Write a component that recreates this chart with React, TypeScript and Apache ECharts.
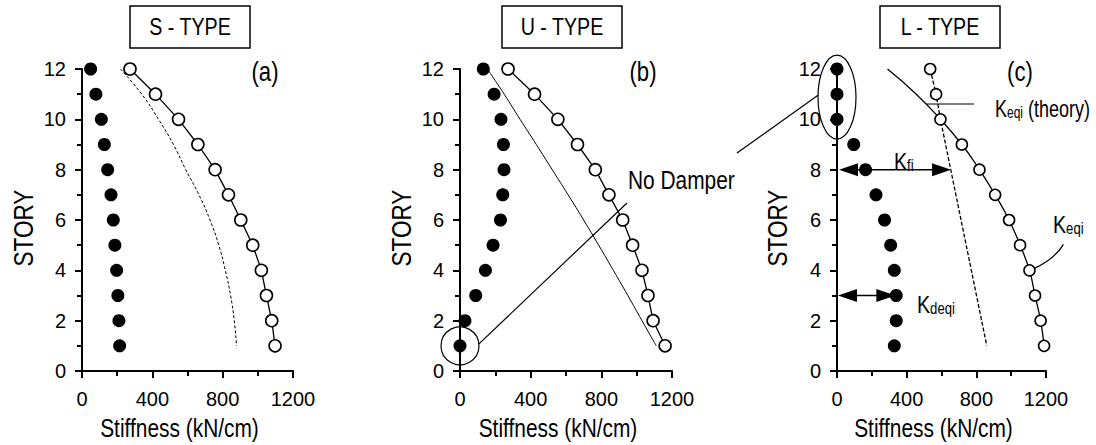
import React, { useEffect, useRef } from "react";
import * as echarts from "echarts";

const FONT = '"Liberation Sans", Arial, sans-serif';
const NARROW = 0.82;

// Story levels (top to bottom)
const stories = [12, 11, 10, 9, 8, 7, 6, 5, 4, 3, 2, 1];

// (a) S-TYPE
const sDamper = [49, 79, 110, 127, 146, 165, 178, 187, 197, 204, 210, 214];
const sEquivalent = [273, 418, 549, 659, 757, 833, 903, 971, 1020, 1049, 1079, 1098];
const sTheory = [218, 340, 435, 520, 590, 665, 728, 778, 815, 845, 866, 879];

// (b) U-TYPE
const uDamper = [132, 193, 232, 246, 249, 242, 229, 187, 144, 89, 28, 0];
const uEquivalent = [272, 422, 554, 665, 766, 843, 921, 977, 1030, 1064, 1093, 1161];
const uTheory = [155, 250, 340, 432, 522, 612, 700, 785, 868, 950, 1030, 1111];

// (c) L-TYPE
const lDamper = [0, 0, 0, 96, 164, 224, 273, 308, 329, 340, 340, 329];
const lEquivalent = [535, 569, 594, 717, 818, 908, 988, 1051, 1105, 1137, 1169, 1189];
const lTheory = [290, 455, 594, 717, 818, 908, 988, 1051, 1105, 1137, 1169, 1189];
const lFrameStories = [12, 11, 10, 1];
const lFrame = [535, 569, 594, 860];

const xTicks = { min: 0, max: 1200, interval: 400 };
const yTicks = { min: 0, max: 12, interval: 2 };

const titles = ["S - TYPE", "U - TYPE", "L - TYPE"];
const panelTags = ["(a)", "(b)", "(c)"];

const pair = (vals: number[], st: number[] = stories) => vals.map((v, i) => [v, st[i]]);

const gridDefs = [
  { left: 82, top: 69, width: 211, height: 302 },
  { left: 460, top: 69, width: 212, height: 302 },
  { left: 837, top: 69, width: 209, height: 302 },
];

const axisCommon = {
  axisLine: { show: true, onZero: false, lineStyle: { color: "#000", width: 2 } },
  axisTick: { show: true, length: 7, lineStyle: { color: "#000", width: 2 } },
  minorTick: { show: true, splitNumber: 2, length: 5, lineStyle: { color: "#000", width: 2 } },
  splitLine: { show: false },
  minorSplitLine: { show: false },
};

function filled(g: number, vals: number[]) {
  return {
    type: "scatter",
    xAxisIndex: g,
    yAxisIndex: g,
    data: pair(vals),
    symbol: "circle",
    symbolSize: 13,
    itemStyle: { color: "#000", opacity: 1 },
    clip: false,
    z: 3,
  };
}

function openLine(g: number, vals: number[], size: number) {
  return {
    type: "line",
    xAxisIndex: g,
    yAxisIndex: g,
    data: pair(vals),
    symbol: "circle",
    symbolSize: size,
    showSymbol: true,
    itemStyle: { color: "#fff", borderColor: "#000", borderWidth: 1.6, opacity: 1 },
    lineStyle: { color: "#000", width: 1.3 },
    clip: false,
    z: 4,
  };
}

function curve(g: number, data: number[][], lineType: any, width: number, smooth: boolean) {
  return {
    type: "line",
    xAxisIndex: g,
    yAxisIndex: g,
    data,
    showSymbol: false,
    symbol: "none",
    smooth,
    lineStyle: { color: "#000", width, type: lineType },
    clip: false,
    z: 2,
  };
}

const series: any[] = [
  filled(0, sDamper),
  openLine(0, sEquivalent, 12),
  curve(0, pair(sTheory), [3, 2], 1, true),

  filled(1, uDamper),
  openLine(1, uEquivalent, 12),
  curve(1, pair(uTheory), "solid", 1, true),

  filled(2, lDamper),
  curve(2, pair(lTheory), "solid", 1.3, true),
  curve(2, pair(lFrame, lFrameStories), [4, 2], 1.3, false),
  {
    type: "scatter",
    xAxisIndex: 2,
    yAxisIndex: 2,
    data: pair(lEquivalent),
    symbol: "circle",
    symbolSize: 11,
    itemStyle: { color: "#fff", borderColor: "#000", borderWidth: 1.6, opacity: 1 },
    clip: false,
    z: 5,
  },
];

const tickLabel = (margin: number) => ({
  color: "#000",
  fontSize: 20,
  fontFamily: FONT,
  margin,
  formatter: (v: number) => String(v),
});

const baseOption: any = {
  animation: false,
  backgroundColor: "#fff",
  grid: gridDefs,
  xAxis: gridDefs.map((_, i) => ({
    gridIndex: i,
    type: "value",
    ...xTicks,
    ...axisCommon,
    axisLabel: tickLabel(18),
  })),
  yAxis: gridDefs.map((_, i) => ({
    gridIndex: i,
    type: "value",
    ...yTicks,
    ...axisCommon,
    axisLabel: tickLabel(16),
  })),
  series,
};

function txt(x: number, y: number, text: string, fontSize: number, extra: any = {}) {
  const { style, ...rest } = extra;
  return {
    type: "text",
    x,
    y,
    scaleX: NARROW,
    silent: true,
    z: 10,
    ...rest,
    style: {
      text,
      fontSize,
      fontFamily: FONT,
      fill: "#000",
      align: "center",
      verticalAlign: "middle",
      ...(style || {}),
    },
  };
}

function kLabel(x: number, y: number, sub: string, tail = "", scale = NARROW) {
  return {
    type: "text",
    x,
    y,
    scaleX: scale,
    silent: true,
    z: 10,
    style: {
      text: `{k|K}{s|${sub}}${tail ? `{k|${tail}}` : ""}`,
      fontFamily: FONT,
      fill: "#000",
      align: "left",
      verticalAlign: "middle",
      rich: {
        k: { fontSize: 24, fontFamily: FONT, fill: "#000", verticalAlign: "bottom", lineHeight: 28 },
        s: { fontSize: 16, fontFamily: FONT, fill: "#000", verticalAlign: "bottom", lineHeight: 25 },
      },
    },
  };
}

const stroke = (w = 1.2) => ({ stroke: "#000", lineWidth: w, fill: "none" });

function arrow(x1: number, x2: number, y: number) {
  const L = 19;
  const H = 6.5;
  return [
    { type: "line", silent: true, z: 9, shape: { x1: x1 + 4, y1: y, x2: x2 - 4, y2: y }, style: stroke(1.5) },
    {
      type: "polygon",
      silent: true,
      z: 9,
      shape: { points: [[x1, y], [x1 + L, y - H], [x1 + L, y + H]] },
      style: { fill: "#000" },
    },
    {
      type: "polygon",
      silent: true,
      z: 9,
      shape: { points: [[x2, y], [x2 - L, y - H], [x2 - L, y + H]] },
      style: { fill: "#000" },
    },
  ];
}

function buildGraphics(P: (g: number, x: number, y: number) => number[]) {
  const els: any[] = [];
  gridDefs.forEach((gd, i) => {
    const cx = [190, 562, 940][i];
    els.push({
      type: "rect",
      silent: true,
      shape: { x: cx - 60, y: 6, width: 120, height: 42 },
      style: { fill: "#fff", stroke: "#000", lineWidth: 1.5 },
    });
    els.push(txt(cx, 27, titles[i], 24));
    els.push(txt([265, 643, 1020][i], 72, panelTags[i], 27));
    els.push(txt([23, 401, 777][i], 228, "STORY", 27.5, { rotation: Math.PI / 2 }));
    els.push(txt(gd.left + gd.width / 2 - 8, 428, "Stiffness (kN/cm)", 25.5));
  });

  // (b) no damper circle + pointer
  const b1 = P(1, 0, 1);
  els.push({ type: "circle", silent: true, z: 9, shape: { cx: b1[0], cy: b1[1], r: 19 }, style: stroke(1.2) });
  els.push({
    type: "line",
    silent: true,
    z: 9,
    shape: { x1: b1[0] + 19, y1: b1[1] - 2, x2: 627, y2: 203 },
    style: stroke(1.2),
  });
  els.push(txt(628, 180, "No Damper", 25.5, { style: { align: "left" } }));

  // (c) ellipse + pointer
  const c11 = P(2, 0, 11);
  els.push({
    type: "ellipse",
    silent: true,
    z: 9,
    shape: { cx: c11[0], cy: c11[1] + 3, rx: 19, ry: 42 },
    style: stroke(1.2),
  });
  els.push({
    type: "line",
    silent: true,
    z: 9,
    shape: { x1: c11[0] - 19, y1: c11[1] + 1, x2: 737, y2: 153 },
    style: stroke(1.2),
  });

  // arrows
  const a8l = P(2, 0, 8);
  const a8r = P(2, 655, 8);
  els.push(...arrow(a8l[0] + 2, a8r[0], a8l[1]));
  els.push(kLabel(894, 160, "fi"));
  const a3l = P(2, 0, 3);
  const a3r = P(2, 335, 3);
  els.push(...arrow(a3l[0] + 1, a3r[0], a3l[1]));
  els.push(kLabel(917, 303, "deqi"));

  // Keqi (theory)
  const t11 = P(2, 520, 10.6);
  els.push({
    type: "line",
    silent: true,
    z: 9,
    shape: { x1: t11[0] - 1, y1: 104, x2: 974, y2: 104 },
    style: stroke(1.2),
  });
  els.push(kLabel(995, 106, "eqi", " (theory)", 0.75));

  // Keqi pointer
  const k4 = P(2, 1105, 4);
  els.push({
    type: "bezierCurve",
    silent: true,
    z: 9,
    shape: {
      x1: k4[0] + 5,
      y1: k4[1] - 2,
      cpx1: k4[0] + 18,
      cpy1: k4[1] - 8,
      cpx2: k4[0] + 28,
      cpy2: k4[1] - 16,
      x2: k4[0] + 34,
      y2: k4[1] - 26,
    },
    style: stroke(1.2),
  });
  els.push(kLabel(1053, 223, "eqi"));
  return els;
}

export default function App() {
  const ref = useRef<HTMLDivElement>(null);
  useEffect(() => {
    document.body.style.margin = "0";
    const chart = echarts.init(ref.current!, null, { renderer: "svg" });
    chart.setOption(baseOption);
    const P = (g: number, x: number, y: number) =>
      chart.convertToPixel({ gridIndex: g } as any, [x, y]) as number[];
    chart.setOption({ graphic: { elements: buildGraphics(P) } });
    return () => chart.dispose();
  }, []);
  return <div ref={ref} style={{ width: 1096, height: 445 }} />;
}
